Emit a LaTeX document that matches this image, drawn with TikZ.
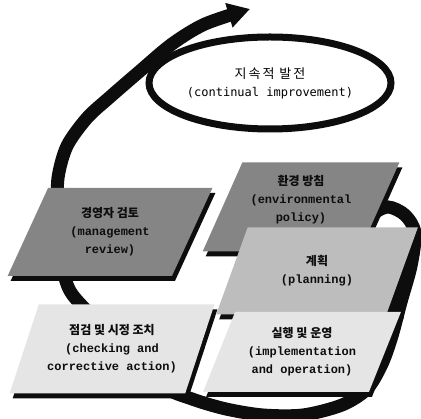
\documentclass[tikz,border=0pt]{standalone}
\usepackage{fontspec}
\usetikzlibrary{arrows.meta,shapes.geometric,shadows}
\setmonofont{Liberation Mono}
\newfontfamily\kr{Noto Sans CJK KR}
\newfontfamily\ellmono{DejaVu Sans Mono}
\definecolor{inkc}{gray}{0.05}
\definecolor{slabdark}{gray}{0.52}
\definecolor{slabmid}{gray}{0.74}
\definecolor{slablight}{gray}{0.9}

\begin{document}
\begin{tikzpicture}[x=1pt, y=-1pt, font=\fontsize{12}{18}\selectfont]
\fill[white] (0,0) rectangle (421,419);
\useasboundingbox (0,0) rectangle (421,419);
\tikzset{slab/.style={trapezium, trapezium left angle=62, trapezium right angle=118, trapezium stretches=true, inner sep=0pt, align=center, text=inkc, font=\fontsize{12}{18}\selectfont\ttfamily\bfseries, general shadow={fill=inkc, shadow xshift=3pt, shadow yshift=-5pt}},
  loopline/.style={draw=inkc, line width=13pt, -{Triangle[length=22pt,width=24pt]}}}
% way points of the big loop (it runs behind the slabs)
\coordinate (a) at (357,236); \coordinate (b) at (372,215); \coordinate (c) at (388,207); \coordinate (d) at (405,215);
\coordinate (e) at (415,233); \coordinate (f) at (411,266); \coordinate (g) at (401,302); \coordinate (h) at (392,336);
\coordinate (i) at (382,364); \coordinate (j) at (367,389); \coordinate (k) at (342,405); \coordinate (l) at (303,415);
\coordinate (m) at (263,415); \coordinate (n) at (226,409); \coordinate (o) at (192,399); \coordinate (p) at (163,386);
\coordinate (q) at (122,345); \coordinate (r) at (88,312); \coordinate (s) at (69,289); \coordinate (t) at (60,255);
\coordinate (u) at (58,212); \coordinate (v) at (58,178); \coordinate (w) at (67,146); \coordinate (x) at (87,118);
\coordinate (y) at (110,97); \coordinate (z) at (140,71); \coordinate (z2) at (172,44); \coordinate (z3) at (205,24);
\coordinate (tip) at (250,9);
\draw[loopline] plot[smooth] coordinates {(a) (b) (c) (d) (e) (f) (g) (h) (i) (j) (k) (l) (m) (n) (o) (p) (q) (r) (s) (t) (u) (v) (w) (x) (y) (z) (z2) (z3) (tip)};
% continual improvement
\node[draw=inkc, ellipse, line width=7pt, minimum width=242, minimum height=92, inner sep=0pt, align=center] (improve) at (270,83) {{\kr\addfontfeature{LetterSpace=15}\fontsize{13}{18}\selectfont 지속적 발전}\\{\ellmono (continual improvement)}};
% the five slabs
\node[slab, fill=slabdark, minimum width=205, minimum height=88] (review) at (110,232) {{\kr 경영자 검토}\\(management\\review)};
\node[slab, fill=slablight, minimum width=205, minimum height=89] (check) at (112,349) {{\kr 점검 및 시정 조치}\\(checking and\\corrective action)};
\node[slab, fill=slabdark, minimum width=197, minimum height=89] (policy) at (301,207) {{\kr 환경 방침}\\(environmental\\policy)\\\mbox{}};
\node[slab, fill=slabmid, minimum width=202, minimum height=87] (plan) at (317,271) {{\kr 계획}\\(planning)};
\node[slab, fill=slablight, minimum width=198, minimum height=80] (implement) at (302,352) {{\kr 실행 및 운영}\\(implementation\\and operation)};
\end{tikzpicture}
\end{document}
